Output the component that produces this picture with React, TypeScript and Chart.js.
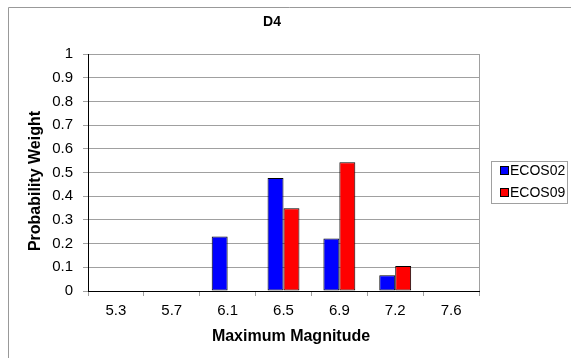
import React, { useEffect, useRef } from "react";
import { Chart, registerables } from "chart.js";

Chart.register(...registerables);

// Maximum magnitude categories and the probability weights of each model
const magnitudes = ["5.3", "5.7", "6.1", "6.5", "6.9", "7.2", "7.6"];
const ecos02 = [0, 0, 0.23, 0.477, 0.222, 0.066, 0];
const ecos09 = [0, 0, 0, 0.349, 0.543, 0.105, 0];
const seriesNames = ["ECOS02", "ECOS09"];
const seriesColors = ["#0000FF", "#FF0000"];

const FONT = "'Liberation Sans', Arial, sans-serif";
const GRID = "#a0a0a0";

// Frame, titles and legend drawn straight onto the canvas
const decorations = {
  id: "decorations",
  afterDraw(chart: any) {
    const { ctx, chartArea } = chart;
    ctx.save();

    // outer chart frame
    ctx.strokeStyle = "#999999";
    ctx.lineWidth = 1;
    ctx.beginPath();
    ctx.moveTo(8.5, 358);
    ctx.lineTo(8.5, 7.5);
    ctx.lineTo(571, 7.5);
    ctx.stroke();

    // plot area right edge
    ctx.strokeStyle = GRID;
    ctx.beginPath();
    ctx.moveTo(Math.round(chartArea.right) + 0.5, chartArea.top);
    ctx.lineTo(Math.round(chartArea.right) + 0.5, chartArea.bottom);
    ctx.stroke();

    ctx.fillStyle = "#000";
    ctx.textAlign = "center";
    ctx.textBaseline = "middle";

    // chart title
    ctx.font = `bold 14px ${FONT}`;
    ctx.fillText("D4", 272, 22);

    // axis titles
    ctx.font = `bold 16px ${FONT}`;
    ctx.fillText("Maximum Magnitude", 291, 337);
    ctx.save();
    ctx.translate(36, 181);
    ctx.rotate(-Math.PI / 2);
    ctx.fillText("Probability Weight", 0, 0);
    ctx.restore();

    // legend
    const lx = 491.5, ly = 161.5, lw = 76, lh = 42;
    ctx.fillStyle = "#fff";
    ctx.fillRect(lx, ly, lw, lh);
    ctx.strokeStyle = GRID;
    ctx.strokeRect(lx, ly, lw, lh);
    ctx.font = `14px ${FONT}`;
    ctx.textAlign = "left";
    chart.data.datasets.forEach((ds: any, i: number) => {
      const cy = 171 + i * 22;
      ctx.fillStyle = ds.backgroundColor;
      ctx.fillRect(501, cy - 4, 7, 7);
      ctx.strokeStyle = "#000";
      ctx.strokeRect(500.5, cy - 4.5, 8, 8);
      ctx.fillStyle = "#000";
      ctx.fillText(ds.label, 510, cy + 0.5);
    });

    ctx.restore();
  },
};

export default function App() {
  const canvasRef = useRef<HTMLCanvasElement | null>(null);

  useEffect(() => {
    const canvas = canvasRef.current;
    if (!canvas) return;
    const chart = new Chart(canvas, {
      type: "bar",
      data: {
        labels: magnitudes,
        datasets: [ecos02, ecos09].map((values, i) => ({
          label: seriesNames[i],
          data: values,
          backgroundColor: seriesColors[i],
          borderColor: "#000",
          borderWidth: 1,
          borderSkipped: false,
          categoryPercentage: 0.571,
          barPercentage: 1,
        })),
      },
      options: {
        responsive: false,
        animation: false,
        layout: { padding: { left: 0, top: 54, right: 92, bottom: 0 } },
        plugins: {
          legend: { display: false },
          title: { display: false },
          tooltip: { enabled: false },
        },
        scales: {
          x: {
            offset: true,
            grid: {
              offset: true,
              drawOnChartArea: false,
              drawTicks: true,
              tickLength: 5,
              color: GRID,
            },
            border: { color: "#000", width: 1 },
            ticks: {
              color: "#000",
              font: { family: FONT, size: 15 },
              padding: 6,
              maxRotation: 0,
            },
            afterFit(scale: any) {
              scale.height = 67;
            },
          },
          y: {
            min: 0,
            max: 1,
            grid: {
              color: GRID,
              drawTicks: true,
              tickLength: 5,
            },
            border: { color: "#000", width: 1 },
            ticks: {
              stepSize: 0.1,
              color: "#000",
              font: { family: FONT, size: 15 },
              padding: 10,
              callback: (v: any) => String(Number(Number(v).toFixed(1))),
            },
            afterFit(scale: any) {
              scale.width = 88;
            },
          },
        },
      },
      plugins: [decorations],
    });
    return () => chart.destroy();
  }, []);

  return (
    <div style={{ position: "absolute", left: 0, top: 0, width: 571, height: 358, background: "#fff" }}>
      <canvas ref={canvasRef} width={571} height={358} style={{ display: "block" }} />
    </div>
  );
}
